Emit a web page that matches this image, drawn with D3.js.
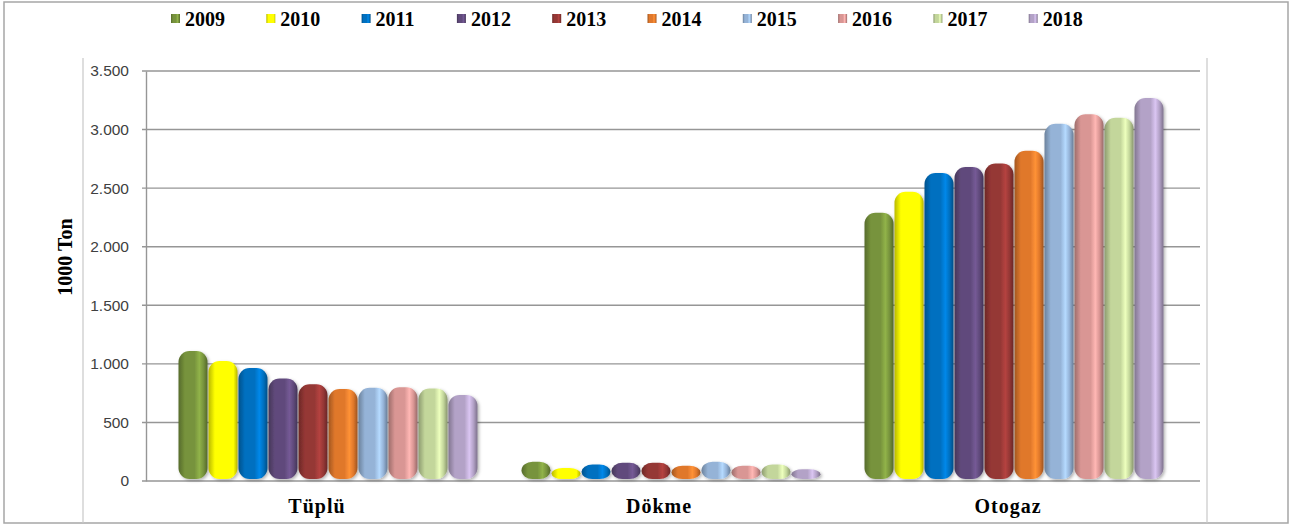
<!DOCTYPE html>
<html><head><meta charset="utf-8">
<script src="https://cdn.jsdelivr.net/npm/d3@7"></script>
<style>body{margin:0;background:#fff}svg{display:block}</style>
</head><body>
<script>
const categories = ["Tüplü", "Dökme", "Otogaz"];
const years = ["2009","2010","2011","2012","2013","2014","2015","2016","2017","2018"];
const tuplu  = [1110, 1025, 965, 875, 825, 785, 795, 800, 790, 735];
const dokme  = [165, 110, 140, 155, 155, 130, 165, 130, 140, 100];
const otogaz = [2290, 2470, 2630, 2680, 2710, 2820, 3050, 3130, 3100, 3270];
const yTicks = [0, 500, 1000, 1500, 2000, 2500, 3000, 3500];
const colors = ["#77933C","#FFFF00","#0070C0","#604A7B","#953735","#E0782C","#95B3D7","#D99694","#C3D69B","#B3A2C7"];

const series = [tuplu, dokme, otogaz];
const W = 1295, H = 528;
const svg = d3.select("body").append("svg").attr("width", W).attr("height", H);
const defs = svg.append("defs");
colors.forEach((c, i) => {
  const base = d3.color(c);
  const g = defs.append("linearGradient").attr("id", "g" + i).attr("x1", "0%").attr("x2", "100%").attr("y1","0%").attr("y2","0%");
  g.append("stop").attr("offset", "0%").attr("stop-color", base.darker(0.9));
  g.append("stop").attr("offset", "22%").attr("stop-color", base);
  g.append("stop").attr("offset", "55%").attr("stop-color", base);
  g.append("stop").attr("offset", "72%").attr("stop-color", base.brighter(0.55));
  g.append("stop").attr("offset", "86%").attr("stop-color", base);
  g.append("stop").attr("offset", "100%").attr("stop-color", base.darker(1.0));
});
const f = defs.append("filter").attr("id","sh").attr("x","-20%").attr("y","-20%").attr("width","140%").attr("height","140%");
f.append("feDropShadow").attr("dx",1.5).attr("dy",1.5).attr("stdDeviation",1.5).attr("flood-color","#000").attr("flood-opacity",0.3);

// outer frame
svg.append("rect").attr("x", 4).attr("y", 2).attr("width", 1284).attr("height", 521)
  .attr("fill", "#fff").attr("stroke", "#a6a6a6").attr("stroke-width", 1.5);
// plot area side lines
svg.append("line").attr("x1",83).attr("x2",83).attr("y1",58).attr("y2",523).attr("stroke","#c8c8c8").attr("stroke-width",1.2);
svg.append("line").attr("x1",1207).attr("x2",1207).attr("y1",58).attr("y2",523).attr("stroke","#c8c8c8").attr("stroke-width",1.2);

const y = d3.scaleLinear().domain([0, 3500]).range([481, 71]);
const x0 = d3.scaleBand().domain(categories).range([157.5, 1186.5]).padding(0);
const x1 = d3.scaleBand().domain(years).range([0, x0.bandwidth()]).paddingInner(0).paddingOuter(0.717);

// gridlines
svg.append("g").selectAll("line").data(yTicks).join("line")
  .attr("x1", 142).attr("x2", 1200).attr("y1", d => y(d)).attr("y2", d => y(d))
  .attr("stroke", "#969696").attr("stroke-width", 1.4);

// y axis
const yAxis = d3.axisLeft(y).tickValues(yTicks).tickSize(0).tickPadding(17)
  .tickFormat(d => d3.format(",")(d).replace(/,/g, "."));
const ga = svg.append("g").attr("transform", "translate(146,0)").call(yAxis);
ga.select(".domain").attr("stroke", "#969696").attr("stroke-width", 1.4);
ga.selectAll("text").attr("font-family", "'Liberation Sans', Arial, sans-serif").attr("font-size", 15.5).attr("fill", "#404040");

// axis title
svg.append("text").attr("transform", "translate(72,257) rotate(-90)").attr("text-anchor", "middle")
  .attr("font-family", "'Liberation Serif', 'Times New Roman', serif").attr("font-weight", "bold")
  .attr("font-size", 20).attr("fill", "#000").text("1000 Ton");

// bars
const bw = x1.bandwidth();
const labelShift = [-12, -13, -7];
categories.forEach((cat, ci) => {
  const g = svg.append("g").attr("transform", `translate(${x0(cat)},0)`);
  g.selectAll("rect").data(series[ci].map((v, i) => ({v, i}))).join("rect")
    .attr("x", d => x1(years[d.i]) - 0.5)
    .attr("width", bw - 1)
    .attr("y", d => y(d.v))
    .attr("height", d => y(0) - 2 - y(d.v))
    .attr("rx", d => Math.min((bw - 1) / 2, 11))
    .attr("ry", d => Math.min((y(0) - 2 - y(d.v)) / 2, 11))
    .attr("fill", d => `url(#g${d.i})`)
    .attr("filter", "url(#sh)");
  svg.append("text").attr("x", x0(cat) + x0.bandwidth() / 2 + labelShift[ci]).attr("y", 513)
    .attr("text-anchor", "middle").attr("font-family", "'Liberation Serif', 'Times New Roman', serif")
    .attr("font-weight", "bold").attr("font-size", 20).attr("letter-spacing", 1).attr("fill", "#000").text(cat);
});

// legend
const lg = svg.append("g");
years.forEach((yr, i) => {
  const lx = 171 + i * 95.3;
  lg.append("rect").attr("x", lx).attr("y", 14).attr("width", 9).attr("height", 9).attr("fill", `url(#g${i})`);
  lg.append("text").attr("x", lx + 14).attr("y", 26).attr("font-family", "'Liberation Serif', 'Times New Roman', serif")
    .attr("font-weight", "bold").attr("font-size", 20).attr("fill", "#000").text(yr);
});
</script>
</body></html>
